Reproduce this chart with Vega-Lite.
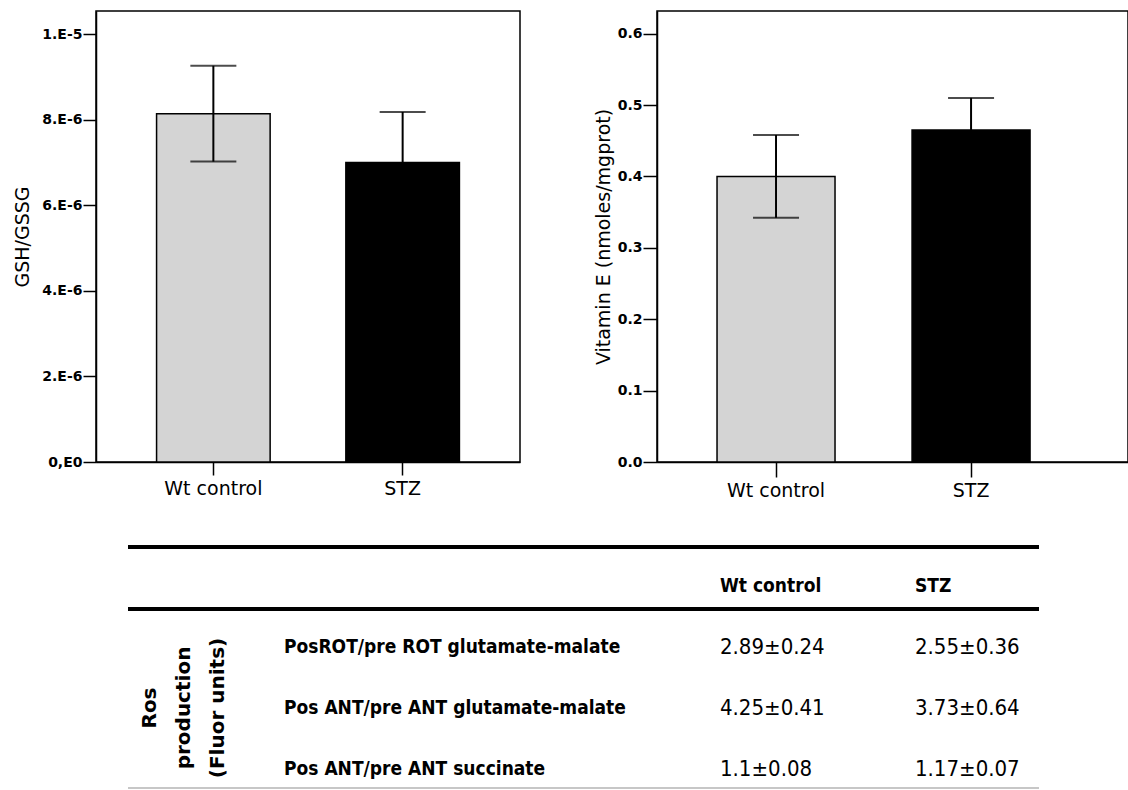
{
  "$schema": "https://vega.github.io/schema/vega-lite/v6.json",
  "padding": {"left": 13, "top": 10, "right": 0, "bottom": 0},
  "spacing": 39,
  "config": {
    "font": "DejaVu Sans",
    "view": {"stroke": "black", "strokeWidth": 1.5},
    "axis": {"domainColor": "black", "tickColor": "black", "labelColor": "black", "titleColor": "black", "grid": false, "domainWidth": 1.5, "tickWidth": 1.5}
  },
  "datasets": {
    "gsh": [
      {"group": "Wt control", "mean": 8.14e-6, "lo": 7.02e-6, "hi": 9.26e-6},
      {"group": "STZ", "mean": 7.0e-6, "lo": 5.82e-6, "hi": 8.18e-6}
    ],
    "vite": [
      {"group": "Wt control", "mean": 0.4, "lo": 0.342, "hi": 0.458},
      {"group": "STZ", "mean": 0.465, "lo": 0.42, "hi": 0.51}
    ],
    "cells": [
      {"r": 1, "c": 3, "text": "Wt control"},
      {"r": 1, "c": 4, "text": "STZ"},
      {"r": 3, "c": 2, "text": "PosROT/pre ROT glutamate-malate"},
      {"r": 3, "c": 3, "text": "2.89±0.24"},
      {"r": 3, "c": 4, "text": "2.55±0.36"},
      {"r": 4, "c": 2, "text": "Pos ANT/pre ANT glutamate-malate"},
      {"r": 4, "c": 3, "text": "4.25±0.41"},
      {"r": 4, "c": 4, "text": "3.73±0.64"},
      {"r": 5, "c": 2, "text": "Pos ANT/pre ANT succinate"},
      {"r": 5, "c": 3, "text": "1.1±0.08"},
      {"r": 5, "c": 4, "text": "1.17±0.07"},
      {"r": 4, "c": 1, "text": "Ros\nproduction\n(Fluor units)"}
    ],
    "majorRules": [
      {"r": 0, "c1": 0, "c2": 5},
      {"r": 2, "c1": 0, "c2": 5}
    ],
    "minorRules": [
      {"r": 6, "c1": 0, "c2": 5}
    ]
  },
  "vconcat": [
    {
      "hconcat": [
        {
          "width": 424,
          "height": 451,
          "data": {"name": "gsh"},
          "encoding": {
            "x": {
              "field": "group", "type": "nominal", "sort": ["Wt control", "STZ"],
              "scale": {"paddingInner": 0.4, "paddingOuter": 0.32},
              "axis": {"title": null, "labelAngle": 0, "labelFontSize": 19, "tickSize": 13, "labelPadding": 4}
            }
          },
          "layer": [
            {
              "mark": {"type": "bar", "stroke": "black", "strokeWidth": 1.5},
              "encoding": {
                "y": {
                  "field": "mean", "type": "quantitative", "title": "GSH/GSSG",
                  "scale": {"domain": [0, 1.054e-5], "nice": false},
                  "axis": {
                    "values": [0, 2e-6, 4e-6, 6e-6, 8e-6, 1e-5],
                    "labelExpr": "datum.value == 0 ? '0,E0' : datum.value > 9e-6 ? '1.E-5' : format(datum.value*1e6, '.0f') + '.E-6'",
                    "labelFontWeight": "bold", "labelFontSize": 14, "tickSize": 13, "labelPadding": 1,
                    "titleFontSize": 19, "titleFontWeight": "normal", "titlePadding": 9
                  }
                },
                "fill": {"field": "group", "type": "nominal", "scale": {"domain": ["Wt control", "STZ"], "range": ["#d4d4d4", "black"]}, "legend": null}
              }
            },
            {
              "mark": {"type": "rule", "strokeWidth": 2, "color": "black"},
              "encoding": {
                "y": {"field": "lo", "type": "quantitative", "title": "GSH/GSSG", "scale": {"domain": [0, 1.054e-5], "nice": false}},
                "y2": {"field": "hi"}
              }
            },
            {
              "mark": {"type": "tick", "size": 46, "thickness": 2, "color": "black"},
              "encoding": {
                "y": {"field": "hi", "type": "quantitative", "title": "GSH/GSSG", "scale": {"domain": [0, 1.054e-5], "nice": false}}
              }
            },
            {
              "mark": {"type": "tick", "size": 46, "thickness": 2, "color": "black"},
              "encoding": {
                "y": {"field": "lo", "type": "quantitative", "title": "GSH/GSSG", "scale": {"domain": [0, 1.054e-5], "nice": false}}
              }
            }
          ]
        },
        {
          "width": 471,
          "height": 451,
          "data": {"name": "vite"},
          "encoding": {
            "x": {
              "field": "group", "type": "nominal", "sort": ["Wt control", "STZ"],
              "scale": {"paddingInner": 0.395, "paddingOuter": 0.405, "align": 0.38},
              "axis": {"title": null, "labelAngle": 0, "labelFontSize": 19, "tickSize": 15, "labelPadding": 4}
            }
          },
          "layer": [
            {
              "mark": {"type": "bar", "stroke": "black", "strokeWidth": 1.5},
              "encoding": {
                "y": {
                  "field": "mean", "type": "quantitative", "title": "Vitamin E (nmoles/mgprot)",
                  "scale": {"domain": [0, 0.6317], "nice": false},
                  "axis": {
                    "values": [0, 0.1, 0.2, 0.3, 0.4, 0.5, 0.6],
                    "format": ".1f",
                    "labelFontWeight": "bold", "labelFontSize": 14, "tickSize": 14, "labelPadding": 1,
                    "titleFontSize": 19, "titleFontWeight": "normal", "titlePadding": 4
                  }
                },
                "fill": {"field": "group", "type": "nominal", "scale": {"domain": ["Wt control", "STZ"], "range": ["#d4d4d4", "black"]}, "legend": null}
              }
            },
            {
              "mark": {"type": "rule", "strokeWidth": 2, "color": "black"},
              "encoding": {
                "y": {"field": "lo", "type": "quantitative", "title": "Vitamin E (nmoles/mgprot)", "scale": {"domain": [0, 0.6317], "nice": false}},
                "y2": {"field": "hi"}
              }
            },
            {
              "mark": {"type": "tick", "size": 46, "thickness": 2, "color": "black"},
              "encoding": {
                "y": {"field": "hi", "type": "quantitative", "title": "Vitamin E (nmoles/mgprot)", "scale": {"domain": [0, 0.6317], "nice": false}}
              }
            },
            {
              "mark": {"type": "tick", "size": 46, "thickness": 2, "color": "black"},
              "encoding": {
                "y": {"field": "lo", "type": "quantitative", "title": "Vitamin E (nmoles/mgprot)", "scale": {"domain": [0, 0.6317], "nice": false}}
              }
            }
          ]
        }
      ],
      "spacing": 137,
      "bounds": "flush"
    },
    {
      "width": 944,
      "height": 250,
      "view": {"stroke": null},
      "layer": [
        {
          "data": {"name": "majorRules"},
          "mark": {"type": "rule", "strokeWidth": 4, "color": "black"},
          "encoding": {
            "x": {"field": "c1", "type": "quantitative", "scale": {"domain": [0, 1, 2, 3, 4, 5], "range": [32, 54, 188, 624, 819, 943], "zero": false, "nice": false}, "axis": null},
            "x2": {"field": "c2"},
            "y": {"field": "r", "type": "quantitative", "scale": {"domain": [0, 1, 2, 3, 4, 5, 6], "range": [7, 46, 69, 107, 168, 229, 248], "zero": false, "nice": false}, "axis": null}
          }
        },
        {
          "data": {"name": "minorRules"},
          "mark": {"type": "rule", "strokeWidth": 1.5, "color": "#b4b4b4"},
          "encoding": {
            "x": {"field": "c1", "type": "quantitative", "axis": null},
            "x2": {"field": "c2"},
            "y": {"field": "r", "type": "quantitative", "axis": null}
          }
        },
        {
          "data": {"name": "cells"},
          "transform": [{"filter": "datum.r == 1"}],
          "mark": {"type": "text", "align": "left", "baseline": "middle", "font": "DejaVu Sans Condensed, DejaVu Sans", "fontWeight": "bold", "fontSize": 19, "color": "black"},
          "encoding": {
            "x": {"field": "c", "type": "quantitative", "axis": null},
            "y": {"field": "r", "type": "quantitative", "axis": null},
            "text": {"field": "text"}
          }
        },
        {
          "data": {"name": "cells"},
          "transform": [{"filter": "datum.c == 2"}],
          "mark": {"type": "text", "align": "left", "baseline": "middle", "font": "DejaVu Sans Condensed, DejaVu Sans", "fontWeight": "bold", "fontSize": 19, "color": "black"},
          "encoding": {
            "x": {"field": "c", "type": "quantitative", "axis": null},
            "y": {"field": "r", "type": "quantitative", "axis": null},
            "text": {"field": "text"}
          }
        },
        {
          "data": {"name": "cells"},
          "transform": [{"filter": "datum.r >= 3 && datum.c >= 3"}],
          "mark": {"type": "text", "align": "left", "baseline": "middle", "font": "DejaVu Sans Condensed, DejaVu Sans", "fontSize": 22, "color": "black"},
          "encoding": {
            "x": {"field": "c", "type": "quantitative", "axis": null},
            "y": {"field": "r", "type": "quantitative", "axis": null},
            "text": {"field": "text"}
          }
        },
        {
          "data": {"name": "cells"},
          "transform": [{"filter": "datum.c == 1"}],
          "mark": {"type": "text", "align": "center", "baseline": "middle", "angle": 270, "lineBreak": "\n", "lineHeight": 34, "font": "DejaVu Sans", "fontWeight": "bold", "fontSize": 20, "color": "black"},
          "encoding": {
            "x": {"field": "c", "type": "quantitative", "axis": null},
            "y": {"field": "r", "type": "quantitative", "axis": null},
            "text": {"field": "text"}
          }
        }
      ]
    }
  ]
}
